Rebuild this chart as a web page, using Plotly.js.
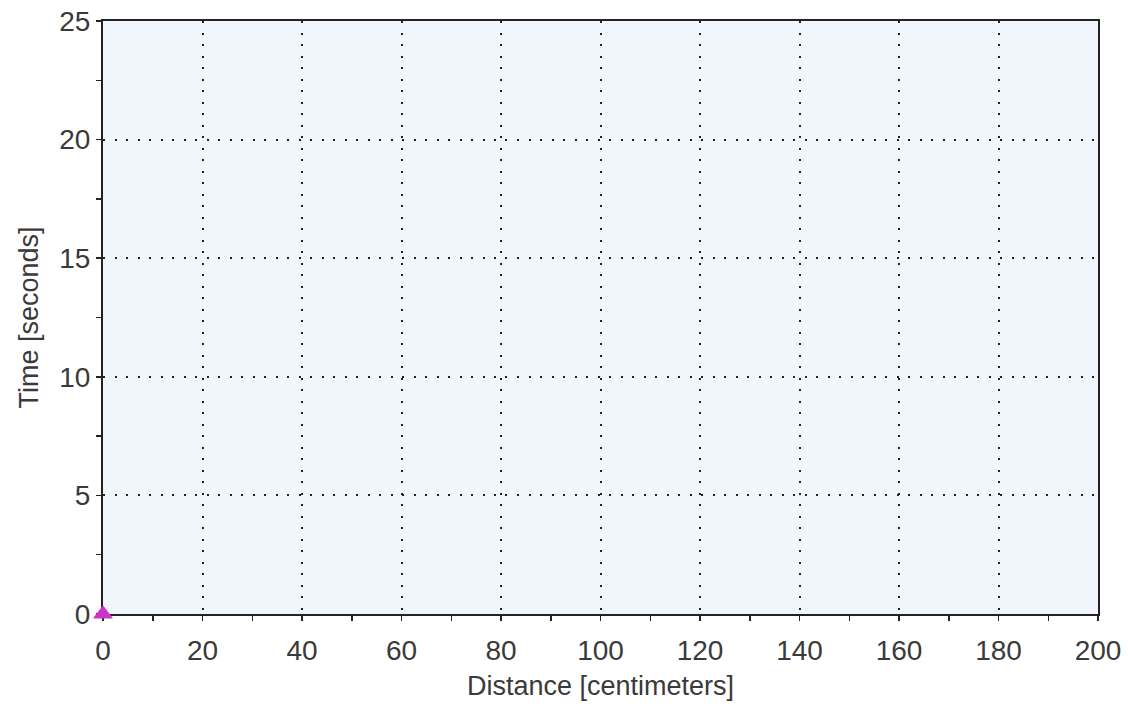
<!DOCTYPE html>
<html>
<head>
<meta charset="utf-8">
<script src="https://cdn.plot.ly/plotly-3.0.1.min.js"></script>
<style>html,body{margin:0;padding:0;background:#fff;}#chart{width:1128px;height:719px;}</style>
</head>
<body>
<div id="chart"></div>
<script>
// Data
const distance = [0];
const time = [0];
const xTickVals = [0, 20, 40, 60, 80, 100, 120, 140, 160, 180, 200];
const yTickVals = [0, 5, 10, 15, 20, 25];
const xRange = [0, 200];
const yRange = [0, 25];

const tickFont = {family: 'Liberation Sans, Arial, sans-serif', size: 28, color: '#3a3a3a'};
const titleFont = {family: 'Liberation Sans, Arial, sans-serif', size: 27, color: '#3a3a3a'};

const trace = {
  x: distance, y: time, type: 'scatter', mode: 'markers',
  marker: {symbol: 'triangle-up', size: 16, color: '#CC33CC', opacity: 1, line: {color: '#CC33CC', width: 1}},
  cliponaxis: false
};

const layout = {
  width: 1128, height: 719,
  margin: {l: 103, r: 30, t: 21, b: 105},
  paper_bgcolor: '#ffffff',
  plot_bgcolor: '#F0F6FC',
  showlegend: false,
  xaxis: {
    range: xRange, tickvals: xTickVals, ticktext: xTickVals.map(String),
    ticks: 'outside', ticklen: 5, tickwidth: 1.5, tickcolor: '#222',
    minor: {dtick: 10, ticks: 'outside', ticklen: 5, tickwidth: 1.5, tickcolor: '#222', showgrid: false},
    showline: true, linecolor: '#222', linewidth: 2, mirror: true,
    showgrid: true, gridcolor: '#222', gridwidth: 2, griddash: '2px,9.5px',
    zeroline: false, tickfont: tickFont, ticklabelstandoff: 5,
    layer: 'below traces',
    title: {text: 'Distance [centimeters]', font: titleFont, standoff: 12}
  },
  yaxis: {
    range: yRange, tickvals: yTickVals, ticktext: yTickVals.map(String),
    ticks: 'outside', ticklen: 5, tickwidth: 1.5, tickcolor: '#222',
    minor: {dtick: 2.5, ticks: 'outside', ticklen: 5, tickwidth: 1.5, tickcolor: '#222', showgrid: false},
    showline: true, linecolor: '#222', linewidth: 2, mirror: true,
    showgrid: true, gridcolor: '#222', gridwidth: 2, griddash: '2px,9.5px',
    zeroline: false, tickfont: tickFont, ticklabelstandoff: 0,
    layer: 'below traces',
    title: {text: 'Time [seconds]', font: titleFont, standoff: 13}
  }
};

Plotly.newPlot('chart', [trace], layout, {staticPlot: true});
</script>
</body>
</html>
